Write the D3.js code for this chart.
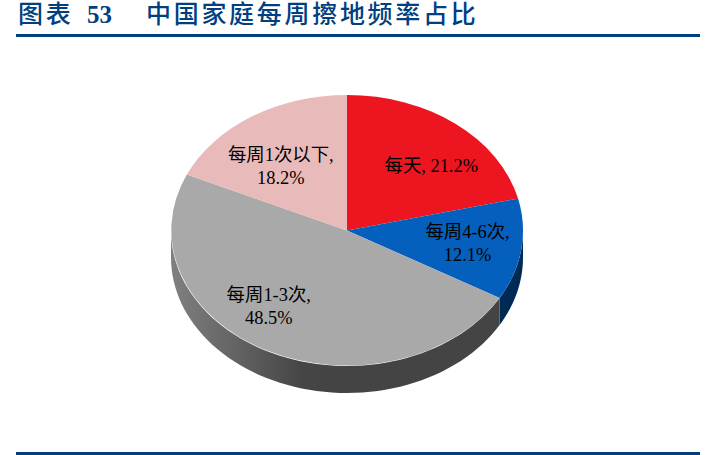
<!DOCTYPE html>
<html>
<head>
<meta charset="utf-8">
<script src="https://cdn.jsdelivr.net/npm/d3@7"></script>
<style>
  html, body { margin: 0; padding: 0; background: #fff; }
  svg { display: block; }
  text { font-family: "Liberation Serif", "Noto Sans CJK SC", serif; }
</style>
</head>
<body>
<svg id="chart" width="707" height="455"></svg>
<script>
const categories = ['每天', '每周4-6次', '每周1-3次', '每周1次以下']
const shares = [21.2, 12.1, 48.5, 18.2]
const sliceColors = ['#ed1620', '#0560bd', '#a9a9a9', '#e9baba']
const wallColors = ['#8a0d13', '#002a56', 'url(#wallGray)', '#8a6c6c']
const titleNumber = '53'
const titleText = '中国家庭每周擦地频率占比'

const cx = 347, cy = 230.5, rx = 176, ry = 135.5, depth = 27
const navy = '#003f80'

const svg = d3.select('#chart')

// unit circle -> squashed ellipse, so the pie stays a plain d3.pie
const sx = d3.scaleLinear().domain([-1, 1]).range([cx - rx, cx + rx])
const sy = d3.scaleLinear().domain([-1, 1]).range([cy - ry, cy + ry])
const project = (a, dy = 0) => [sx(Math.sin(a)), sy(-Math.cos(a)) + dy]

const slices = d3.pie().sort(null).value(d => d)(shares)

const grad = svg.append('defs').append('linearGradient')
  .attr('id', 'wallGray')
  .attr('gradientUnits', 'userSpaceOnUse')
  .attr('x1', cx - rx).attr('x2', cx).attr('y1', 0).attr('y2', 0)
grad.append('stop').attr('offset', '0%').attr('stop-color', '#808080')
grad.append('stop').attr('offset', '75%').attr('stop-color', '#454545')
grad.append('stop').attr('offset', '100%').attr('stop-color', '#444444')

// side wall, only the part of each slice that faces the viewer
const line = d3.line()
slices.forEach((s, i) => {
  const a0 = Math.max(s.startAngle, Math.PI / 2)
  const a1 = Math.min(s.endAngle, Math.PI * 1.5)
  if (a1 <= a0) return
  const steps = d3.range(0, 61).map(k => a0 + (a1 - a0) * k / 60)
  const pts = steps.map(a => project(a)).concat(steps.slice().reverse().map(a => project(a, depth)))
  svg.append('path')
    .attr('d', line(pts) + 'Z')
    .attr('fill', wallColors[i])
})

// top face
const arc = d3.arc().innerRadius(0).outerRadius(1)
svg.append('g')
  .attr('transform', `translate(${cx},${cy}) scale(${rx},${ry})`)
  .selectAll('path')
  .data(slices)
  .enter().append('path')
    .attr('d', arc)
    .attr('fill', (_, i) => sliceColors[i])

// labels sit at 60% of the radius, then nudged as in the original
const nudges = [[19, -1], [16, 1], [-30, 3], [-9, 4]]
const wrapped = [false, true, true, true]
const labels = svg.append('g').attr('text-anchor', 'middle').attr('font-size', 18.4).attr('fill', '#000')
slices.forEach((s, i) => {
  const mid = (s.startAngle + s.endAngle) / 2
  const x = sx(0.6 * Math.sin(mid)) + nudges[i][0]
  const y = sy(-0.6 * Math.cos(mid)) + nudges[i][1]
  const pct = shares[i].toFixed(1) + '%'
  if (wrapped[i]) {
    labels.append('text').attr('x', x).attr('y', y - 5).text(categories[i] + ',')
    labels.append('text').attr('x', x).attr('y', y + 18).text(pct)
  } else {
    labels.append('text').attr('x', x).attr('y', y + 6).text(categories[i] + ', ' + pct)
  }
})

// header and rules
const head = svg.append('g').attr('fill', navy).attr('font-size', 25).attr('font-weight', 500)
head.append('text').attr('x', 18).attr('y', 23).attr('letter-spacing', 2.7).text('图表')
head.append('text').attr('x', 87).attr('y', 23).attr('font-weight', 'bold').text(titleNumber)
head.append('text').attr('x', 146).attr('y', 23).attr('letter-spacing', 2.7).text(titleText)

svg.append('rect').attr('x', 16).attr('y', 34).attr('width', 684).attr('height', 3).attr('fill', navy)
svg.append('rect').attr('x', 16).attr('y', 452).attr('width', 684).attr('height', 3).attr('fill', navy)
</script>
</body>
</html>
